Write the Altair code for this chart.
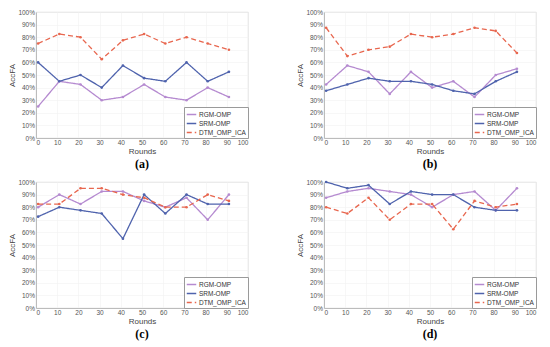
import altair as alt
import pandas as pd

rounds = [1, 11, 21, 31, 41, 51, 61, 71, 81, 91]
series_names = ["RGM-OMP", "SRM-OMP", "DTM_OMP_ICA"]

a_rgm = [25, 45, 42.5, 30, 32.5, 42.5, 32.5, 30, 40, 32.5]
a_srm = [60, 45, 50, 40, 57.5, 47.5, 45, 60, 45, 52.5]
a_dtm = [75, 82.5, 80, 62.5, 77.5, 82.5, 75, 80, 75, 70]

b_rgm = [42.5, 57.5, 52.5, 35, 52.5, 40, 45, 32.5, 50, 55]
b_srm = [37.5, 42.5, 47.5, 45, 45, 42.5, 37.5, 35, 45, 52.5]
b_dtm = [87.5, 65, 70, 72.5, 82.5, 80, 82.5, 87.5, 85, 67.5]

c_rgm = [80, 90, 82.5, 92.5, 92.5, 85, 80, 87.5, 70, 90]
c_srm = [72.5, 80, 77.5, 75, 55, 90, 75, 90, 82.5, 82.5]
c_dtm = [82.5, 82.5, 95, 95, 90, 87.5, 80, 80, 90, 85]

d_rgm = [87.5, 92.5, 95, 92.5, 90, 80, 90, 92.5, 77.5, 95]
d_srm = [100, 95, 97.5, 82.5, 92.5, 90, 90, 80, 77.5, 77.5]
d_dtm = [80, 75, 87.5, 70, 82.5, 82.5, 62.5, 85, 80, 82.5]

colors = ["#b58ad0", "#4f63ad", "#e8674f"]
dashes = [[1, 0], [1, 0], [5, 3]]

x_ticks = list(range(0, 101, 10))
y_ticks = [i / 10 for i in range(11)]

FONT = "Liberation Sans"
W, H = 212, 126


def panel(rgm, srm, dtm, label):
    rows = []
    for name, vals in zip(series_names, [rgm, srm, dtm]):
        for r, v in zip(rounds, vals):
            rows.append({"Rounds": r, "AccFA": v / 100.0, "series": name})
    df = pd.DataFrame(rows)
    legend = alt.Legend(
        title=None, orient="bottom-right", offset=0, fillColor="white",
        strokeColor="#9a9a9a", padding=2, labelFontSize=6.5, labelFont=FONT,
        labelColor="#333", symbolType="stroke", symbolSize=90,
        symbolStrokeWidth=1.3, rowPadding=0, labelLimit=200, labelOffset=2,
    )
    return alt.Chart(df, title=alt.TitleParams(
        label, orient="bottom", anchor="middle", font="Liberation Serif",
        fontSize=12, fontWeight="bold", color="#000", offset=4,
    )).mark_line(
        strokeWidth=1.3,
        point=alt.OverlayMarkDef(size=7, filled=True),
    ).encode(
        x=alt.X("Rounds:Q", scale=alt.Scale(domain=[0, 100], nice=False),
                axis=alt.Axis(values=x_ticks, title="Rounds")),
        y=alt.Y("AccFA:Q", scale=alt.Scale(domain=[0, 1], nice=False),
                axis=alt.Axis(values=y_ticks, format=".0%", title="AccFA")),
        color=alt.Color("series:N", scale=alt.Scale(domain=series_names, range=colors),
                        legend=legend, sort=series_names),
        strokeDash=alt.StrokeDash("series:N", scale=alt.Scale(domain=series_names, range=dashes),
                                  legend=legend, sort=series_names),
    ).properties(width=W, height=H)


pa = panel(a_rgm, a_srm, a_dtm, "(a)")
pb = panel(b_rgm, b_srm, b_dtm, "(b)")
pc = panel(c_rgm, c_srm, c_dtm, "(c)")
pd_ = panel(d_rgm, d_srm, d_dtm, "(d)")

chart = alt.concat(pa, pb, pc, pd_, columns=2, spacing={"row": 7, "column": 47}).resolve_scale(
    color="independent", strokeDash="independent"
).resolve_legend(color="independent", strokeDash="independent").configure(
    padding=0, background="white"
).configure_view(
    stroke="#cfcfcf", strokeWidth=0.8
).configure_axis(
    grid=True, gridColor="#f2f2f2", gridWidth=0.6,
    domainColor="#b0b0b0", domainWidth=0.8, ticks=False,
    labelFont=FONT, labelFontSize=6.5, labelColor="#555",
    titleFont=FONT, titleFontSize=8, titleColor="#444", titleFontWeight="normal",
    labelPadding=1.5, titlePadding=1,
)

chart.save("out.html", embed_options={"renderer": "svg", "actions": False})
